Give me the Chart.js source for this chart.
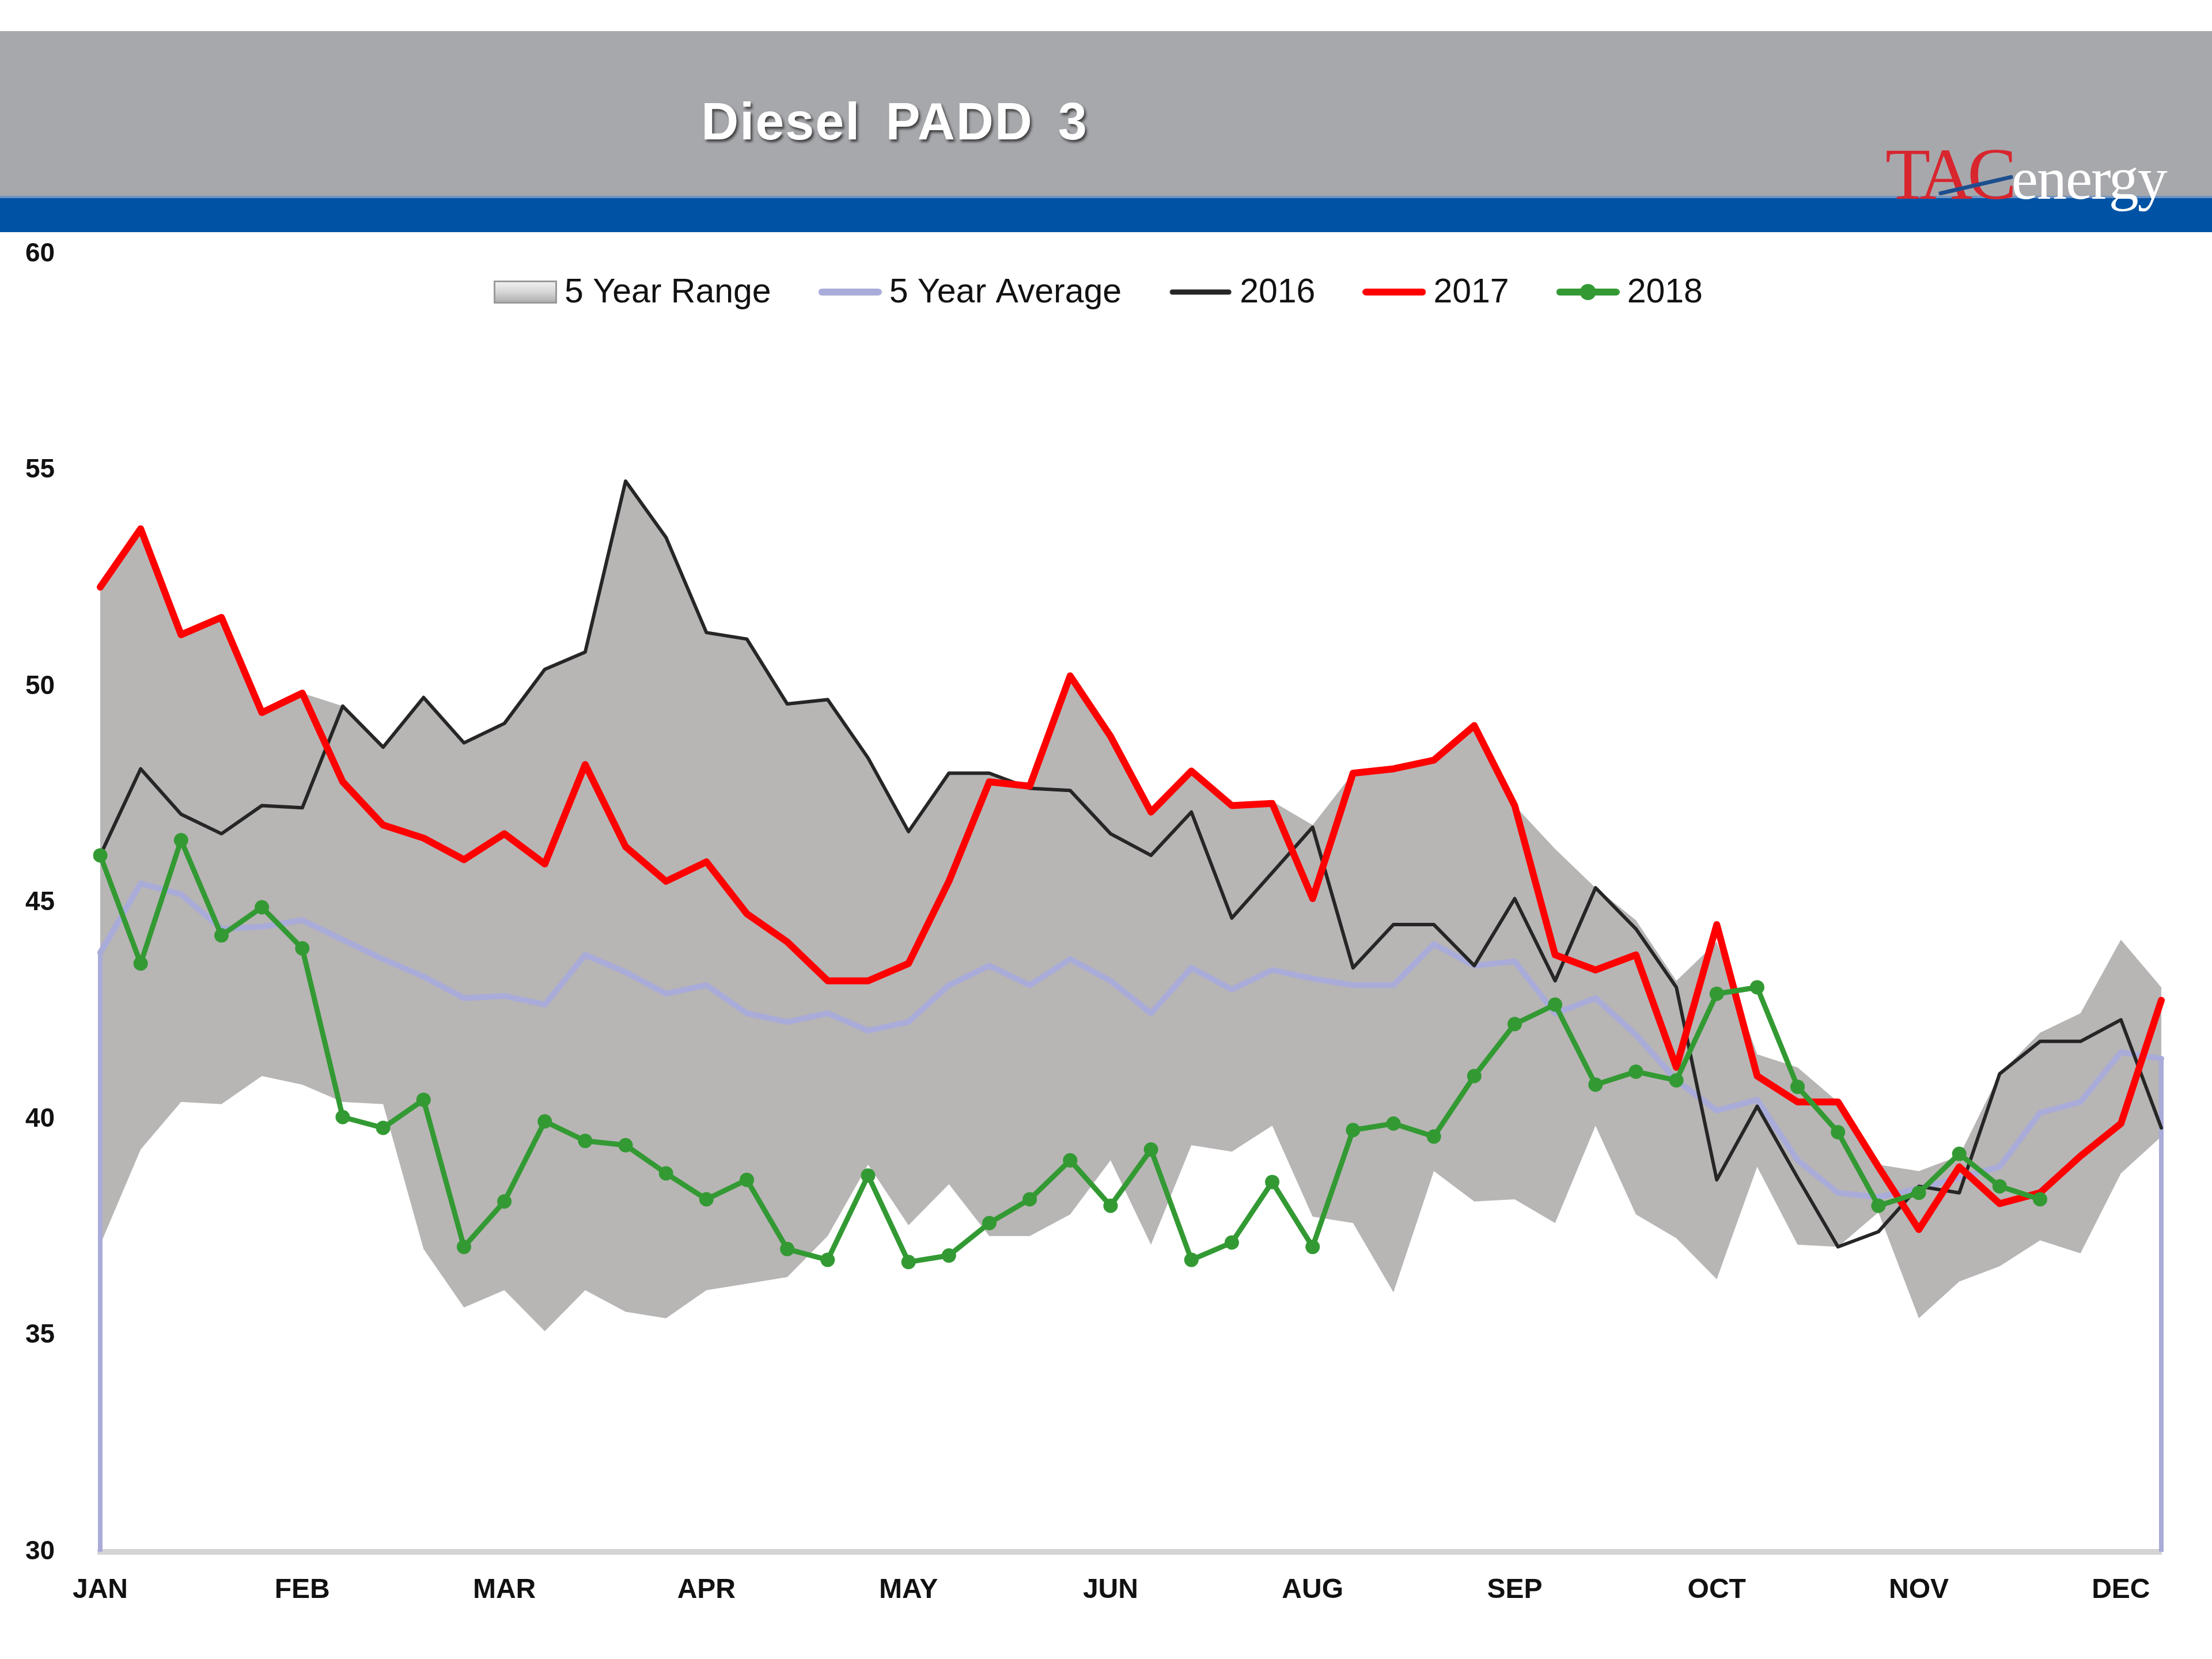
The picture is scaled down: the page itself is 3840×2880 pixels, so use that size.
<!DOCTYPE html>
<html>
<head>
<meta charset="utf-8">
<script src="https://cdn.jsdelivr.net/npm/chart.js@4.4.1/dist/chart.umd.min.js"></script>
<style>
html,body{margin:0;padding:0;background:#fff;}
#page{position:relative;width:3840px;height:2880px;overflow:hidden;background:#fff;}
#hdr{position:absolute;left:0;top:54px;width:3840px;height:286px;background:#a7a8ac;}
#band{position:absolute;left:0;top:340px;width:3840px;height:63px;background:#0053a4;}
#band:before{content:"";position:absolute;left:0;top:0;width:100%;height:4px;background:#6f93c4;}
#title{position:absolute;left:1553px;top:211px;transform:translate(-50%,-50%);font:bold 90px 'Liberation Sans',Arial,sans-serif;color:#fff;letter-spacing:2px;word-spacing:16px;text-shadow:3px 4px 4px rgba(30,30,30,0.75);white-space:nowrap;z-index:3;}
#logo{position:absolute;left:3273px;top:238px;font-family:'Liberation Serif','Times New Roman',serif;white-space:nowrap;line-height:1;z-index:3;}
#logo .tac{font-size:128px;color:#d8262e;letter-spacing:-9px;}
#logo .en{font-size:104px;color:#fff;letter-spacing:-2px;}
#slash{position:absolute;left:3364px;top:318px;width:132px;height:7px;background:#1d4f8e;transform:rotate(-13deg);z-index:4;border-radius:3px;}
#c{position:absolute;left:0;top:0;z-index:2;}
</style>
</head>
<body>
<div id="page">
  <div id="hdr"></div>
  <div id="band"></div>
  <div id="title">Diesel PADD 3</div>
  <div id="logo"><span class="tac">TAC</span><span class="en">energy</span></div>
  <div id="slash"></div>
  <canvas id="c" width="3840" height="2880"></canvas>
</div>
<script>
// ---- data ----
const weeks = [1,2,3,4,5,6,7,8,9,10,11,12,13,14,15,16,17,18,19,20,21,22,23,24,25,26,
               27,28,29,30,31,32,33,34,35,36,37,38,39,40,41,42,43,44,45,46,47,48,49,50,51,52];
const monthTicks = ['JAN','FEB','MAR','APR','MAY','JUN','AUG','SEP','OCT','NOV','DEC'];
const yTicks = [30,35,40,45,50,55,60];

const rangeHigh = [52.3,53.65,51.2,51.6,49.45,49.85,49.55,48.6,49.75,48.7,49.15,50.4,50.8,54.75,
                   53.45,51.25,51.1,49.6,49.7,48.35,46.65,48.0,48.0,47.7,50.25,48.85,47.1,
                   48.05,47.25,47.35,46.8,48.0,48.1,48.3,49.1,47.25,46.25,45.35,44.6,
                   43.2,44.1,41.5,41.2,40.4,38.95,38.8,39.15,41.05,42.0,42.45,44.15,43.05];
const rangeLow  = [37.1,39.3,40.4,40.35,41.0,40.8,40.4,40.35,37.0,35.65,36.05,35.1,36.05,35.55,
                   35.4,36.05,36.2,36.35,37.3,38.95,37.55,38.5,37.3,37.3,37.8,39.05,37.1,
                   39.4,39.25,39.85,37.75,37.6,36.0,38.8,38.1,38.15,37.6,39.85,37.8,
                   37.25,36.3,38.9,37.1,37.05,37.85,35.4,36.25,36.6,37.2,36.9,38.75,39.6];
const avg5 = [43.85,45.45,45.2,44.4,44.45,44.6,44.15,43.7,43.3,42.8,42.85,42.65,43.8,43.4,
              42.9,43.1,42.45,42.25,42.45,42.05,42.25,43.1,43.55,43.1,43.7,43.2,42.45,
              43.5,43.0,43.45,43.25,43.1,43.1,44.05,43.55,43.65,42.45,42.8,41.95,
              40.9,40.2,40.45,39.05,38.3,38.2,38.4,38.65,38.9,40.15,40.4,41.55,41.4];
const y2016 = [46.1,48.1,47.05,46.6,47.25,47.2,49.55,48.6,49.75,48.7,49.15,50.4,50.8,54.75,
               53.45,51.25,51.1,49.6,49.7,48.35,46.65,48.0,48.0,47.65,47.6,46.6,46.1,
               47.1,44.65,45.7,46.75,43.5,44.5,44.5,43.55,45.1,43.2,45.35,44.4,
               43.05,38.6,40.3,38.65,37.05,37.4,38.45,38.3,41.05,41.8,41.8,42.3,39.8];
const y2017 = [52.3,53.65,51.2,51.6,49.4,49.85,47.8,46.8,46.5,46.0,46.6,45.9,48.2,46.3,
               45.5,45.95,44.75,44.1,43.2,43.2,43.6,45.5,47.8,47.7,50.25,48.85,47.1,
               48.05,47.25,47.3,45.1,48.0,48.1,48.3,49.1,47.25,43.8,43.45,43.8,
               41.2,44.5,41.0,40.4,40.4,38.9,37.45,38.9,38.05,38.3,39.15,39.9,42.75];
const y2018 = [46.1,43.6,46.45,44.25,44.9,43.95,40.05,39.8,40.45,37.05,38.1,39.95,39.5,39.4,
               38.75,38.15,38.6,37.0,36.75,38.7,36.7,36.85,37.6,38.15,39.05,38.0,39.3,
               36.75,37.15,38.55,37.05,39.75,39.9,39.6,41.0,42.2,42.65,40.8,41.1,
               40.9,42.9,43.05,40.75,39.7,38.0,38.3,39.2,38.45,38.15,null,null,null];

// ---- styles ----
const RANGE_FILL = '#b8b5b5';
const AVG_COLOR = '#a9abd9';
const C2016 = '#262626';
const C2017 = '#ff0000';
const C2018 = '#339a33';

const SYM_W = 110, SYM_H = 60;
function legendSymbol(kind, color) {
  const cv = document.createElement('canvas');
  cv.width = SYM_W; cv.height = SYM_H;
  const g = cv.getContext('2d');
  const cy = SYM_H / 2;
  if (kind === 'range') {
    const gr = g.createLinearGradient(0, 10, 0, 50);
    gr.addColorStop(0, '#f4f4f4'); gr.addColorStop(0.5, '#d6d6d6'); gr.addColorStop(1, '#a9a9a9');
    g.fillStyle = gr; g.fillRect(0, 10, SYM_W, 40);
    g.strokeStyle = '#9a9a9a'; g.lineWidth = 3; g.strokeRect(1.5, 11.5, SYM_W - 3, 37);
  } else {
    g.strokeStyle = color; g.lineCap = 'round';
    g.lineWidth = kind === 'thin' ? 9 : 12;
    g.beginPath(); g.moveTo(6, cy); g.lineTo(SYM_W - 6, cy); g.stroke();
    if (kind === 'marker') {
      g.fillStyle = color; g.beginPath(); g.arc(SYM_W / 2, cy, 14, 0, Math.PI * 2); g.fill();
    }
  }
  return cv;
}
const symbols = [
  legendSymbol('range'),
  legendSymbol('line', AVG_COLOR),
  legendSymbol('thin', C2016),
  legendSymbol('line', C2017),
  legendSymbol('marker', C2018)
];

const LEGEND_LEFT = 857, LEGEND_CY = 507, SYM_GAP = 13, ITEM_GAP = 82;

const excelLegend = {
  id: 'excelLegend',
  afterDraw(chart) {
    const ctx = chart.ctx;
    ctx.save();
    ctx.font = "59px 'Liberation Sans', Arial, sans-serif";
    ctx.textBaseline = 'middle';
    ctx.textAlign = 'left';
    ctx.fillStyle = '#111';
    let x = LEGEND_LEFT;
    chart.data.datasets.forEach((ds, i) => {
      if (!symbols[i]) return;
      ctx.drawImage(symbols[i], x, LEGEND_CY - SYM_H / 2);
      x += SYM_W + SYM_GAP;
      ctx.fillText(ds.label, x, LEGEND_CY + 2);
      x += ctx.measureText(ds.label).width + ITEM_GAP;
    });
    ctx.restore();
  }
};

const edgeLines = {
  id: 'edgeLines',
  afterDatasetDraw(chart, args) {
    if (args.index !== 0) return;
    const pts = chart.getDatasetMeta(1).data;
    const ys = chart.scales.y;
    const ctx = chart.ctx;
    ctx.save();
    ctx.strokeStyle = AVG_COLOR;
    ctx.lineWidth = 8;
    [pts[0], pts[pts.length - 1]].forEach(p => {
      ctx.beginPath(); ctx.moveTo(p.x, p.y); ctx.lineTo(p.x, ys.bottom); ctx.stroke();
    });
    ctx.restore();
  }
};

Chart.defaults.font.family = "'Liberation Sans', Arial, sans-serif";
Chart.defaults.color = '#111';

new Chart(document.getElementById('c'), {
  type: 'line',
  data: {
    labels: weeks,
    datasets: [
      { label: '5 Year Range', data: rangeHigh, borderWidth: 0, borderColor: 'rgba(0,0,0,0)',
        backgroundColor: RANGE_FILL, fill: 5, pointRadius: 0, order: 4 },
      { label: '5 Year Average', data: avg5, borderColor: AVG_COLOR, borderWidth: 10,
        pointRadius: 0, fill: false, order: 3 },
      { label: '2016', data: y2016, borderColor: C2016, borderWidth: 6,
        pointRadius: 0, fill: false, order: 2 },
      { label: '2017', data: y2017, borderColor: C2017, borderWidth: 12,
        pointRadius: 0, fill: false, order: 1 },
      { label: '2018', data: y2018, borderColor: C2018, backgroundColor: C2018, borderWidth: 9,
        pointRadius: 12.5, pointBorderWidth: 0, pointBackgroundColor: C2018, fill: false, order: 0 },
      { label: 'low', data: rangeLow, borderWidth: 0, borderColor: 'rgba(0,0,0,0)',
        pointRadius: 0, fill: false, order: 5 }
    ]
  },
  options: {
    responsive: false,
    animation: false,
    devicePixelRatio: 1,
    events: [],
    elements: { line: { tension: 0, borderJoinStyle: 'round', borderCapStyle: 'round' } },
    layout: { padding: { top: 441, left: 44, right: 88, bottom: 0 } },
    plugins: {
      tooltip: { enabled: false },
      legend: { display: false }
    },
    scales: {
      x: {
        type: 'category',
        offset: false,
        grid: { display: false, drawTicks: false },
        border: { display: true, color: '#d4d4d4', width: 10 },
        ticks: {
          autoSkip: false, maxRotation: 0, minRotation: 0, padding: 38,
          color: '#111', font: { size: 48, weight: 'bold' },
          callback: (v, i) => (i % 5 === 0 ? monthTicks[i / 5] : '')
        },
        afterFit: (s) => { s.height = 186; }
      },
      y: {
        min: yTicks[0], max: yTicks[yTicks.length - 1],
        grid: { display: false, drawTicks: false },
        border: { display: false },
        ticks: { stepSize: 5, crossAlign: 'far', padding: 0, color: '#111',
                 font: { size: 46, weight: 'bold' } },
        afterFit: (s) => { s.width = 130; }
      }
    }
  },
  plugins: [edgeLines, excelLegend]
});
</script>
</body>
</html>
